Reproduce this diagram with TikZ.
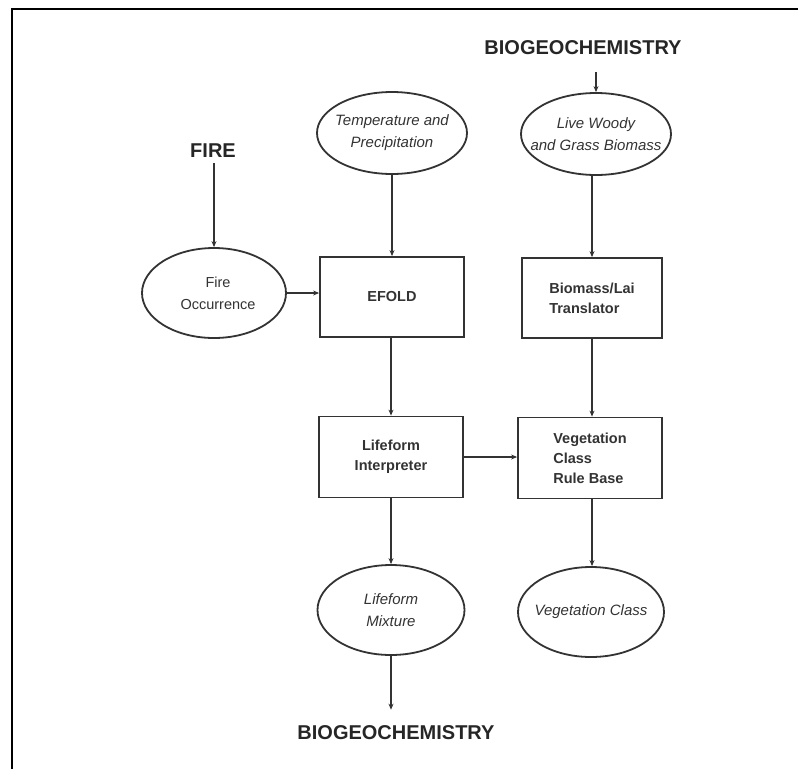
\documentclass[tikz,border=0pt]{standalone}
\usepackage{fontspec}
\setmainfont{Liberation Sans}
\usetikzlibrary{shapes.geometric,arrows.meta}
\definecolor{ink}{HTML}{333333}
\begin{document}
\begin{tikzpicture}[x=1pt,y=-1pt,
  ell/.style={ellipse,draw=ink,line width=1.8pt,inner xsep=-30pt,inner ysep=-12pt,
    minimum width=146pt,minimum height=86pt,align=center,text=ink,
    font=\fontsize{15}{22}\selectfont\itshape},
  procbox/.style={rectangle,draw=ink,line width=1.8pt,inner sep=0pt,
    minimum width=144pt,minimum height=80pt,text=ink,
    font=\fontsize{14.5}{20}\selectfont\bfseries},
  heading/.style={inner sep=0pt,text=black!85,
    font=\fontsize{20}{24}\selectfont\bfseries},
  arr/.style={draw=ink,line width=1.6pt,-{Stealth[length=6pt,width=5pt]}}]
  \useasboundingbox (0,0) rectangle (798,769);
  % page frame (top and left edges)
  \draw[line width=2pt,black] (11.5,769) -- (11.5,9) -- (798,9);

  % headings
  \node[heading] (fire)  at (213,151) {FIRE};
  \node[heading] (bgtop) at (583,48) {BIOGEOCHEMISTRY};
  \node[heading] (bgbot) at (396,733) {BIOGEOCHEMISTRY};

  % input and output ellipses
  \node[ell,minimum width=150pt,minimum height=82pt] (temp) at (392,133)
    {Temperature and\\Precipitation};
  \node[ell,minimum width=150pt,minimum height=82pt] (live) at (596,134)
    {Live Woody\\and Grass Biomass};
  \node[ell,minimum width=144pt,minimum height=90pt,font=\fontsize{14.5}{22}\selectfont]
    (fireocc) at (214,293) {\hspace*{8pt}Fire\\\hspace*{8pt}Occurrence};
  \node[ell,minimum width=147pt,minimum height=90pt] (mixture) at (391,610)
    {Lifeform\\Mixture};
  \node[ell,minimum width=146pt,minimum height=90pt] (vegclass) at (591,612)
    {Vegetation Class};

  % processing boxes
  \node[procbox] (efold) at (392,297) {EFOLD};
  \node[procbox,minimum width=140pt,align=left] (biomass) at (592,298)
    {Biomass/Lai\\Translator};
  \node[procbox,minimum height=81pt,align=center] (lifeform) at (391,457)
    {Lifeform\\Interpreter};
  \node[procbox,minimum height=81pt,align=left] (vegbox) at (590,458)
    {Vegetation\\Class\\Rule Base};

  % connectors
  \draw[arr,shorten <=5pt]  (fireocc.north |- fire.south) -- (fireocc.north);
  \draw[arr,shorten <=17pt] (live.north |- bgtop.south) -- (live.north);
  \draw[arr] (temp.south) -- (temp.south |- efold.north);
  \draw[arr] (live.south -| biomass.north) -- (biomass.north);
  \draw[arr] (fireocc.east) -- (fireocc.east -| efold.west);
  \draw[arr] (lifeform.north |- efold.south) -- (lifeform.north);
  \draw[arr] (biomass.south) -- (biomass.south |- vegbox.north);
  \draw[arr] (lifeform.east) -- (lifeform.east -| vegbox.west);
  \draw[arr] (lifeform.south) -- (lifeform.south |- mixture.north);
  \draw[arr] (vegbox.south -| biomass.south) -- (biomass.south |- vegclass.north);
  \draw[arr,shorten >=16pt] (mixture.south) -- (mixture.south |- bgbot.north);
\end{tikzpicture}
\end{document}
